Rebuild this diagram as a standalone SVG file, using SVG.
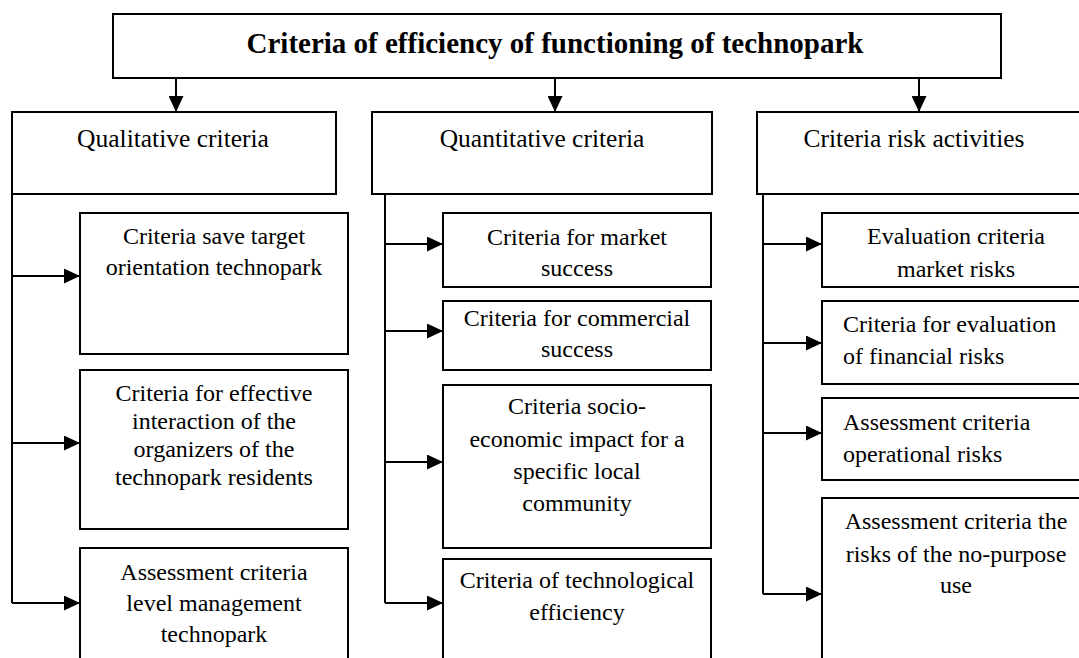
<svg xmlns="http://www.w3.org/2000/svg" width="1079" height="658" viewBox="0 0 1079 658" font-family="Liberation Serif, Times New Roman, serif">
<style>
.box{fill:#fff;stroke:#000;stroke-width:2}
.t{font-family:'Liberation Serif','Times New Roman',serif;font-size:24px;fill:#000;text-anchor:middle}
.h{font-size:25.5px}
.l{text-anchor:start}
.b{font-weight:bold;font-size:29px}
.c{fill:none;stroke:#000;stroke-width:2}
</style>
<defs>
<marker id="ah" markerUnits="userSpaceOnUse" markerWidth="16" markerHeight="15" refX="16" refY="7.5" orient="auto">
<path d="M0,0 L16,7.5 L0,15 z" fill="#000"/>
</marker>
</defs>
<rect width="1079" height="658" fill="#fff"/>
<g id="connectors">
<path class="c" d="M176,78 V112" marker-end="url(#ah)"/>
<path class="c" d="M555,78 V112" marker-end="url(#ah)"/>
<path class="c" d="M919,78 V112" marker-end="url(#ah)"/>
<path class="c" d="M12,194 V603"/>
<path class="c" d="M12,276 H80" marker-end="url(#ah)"/>
<path class="c" d="M12,443 H80" marker-end="url(#ah)"/>
<path class="c" d="M12,603 H80" marker-end="url(#ah)"/>
<path class="c" d="M385,194 V603"/>
<path class="c" d="M385,244 H443" marker-end="url(#ah)"/>
<path class="c" d="M385,331 H443" marker-end="url(#ah)"/>
<path class="c" d="M385,462 H443" marker-end="url(#ah)"/>
<path class="c" d="M385,603 H443" marker-end="url(#ah)"/>
<path class="c" d="M763,194 V594"/>
<path class="c" d="M763,244 H822" marker-end="url(#ah)"/>
<path class="c" d="M763,343 H822" marker-end="url(#ah)"/>
<path class="c" d="M763,433 H822" marker-end="url(#ah)"/>
<path class="c" d="M763,594 H822" marker-end="url(#ah)"/>
</g>
<g id="root">
<rect class="box" x="113" y="14" width="888" height="64"/>
<text class="t b" x="555" y="53">Criteria of efficiency of functioning of technopark</text>
</g>
<g id="qualitative">
<rect class="box" x="12" y="112" width="324" height="82"/>
<text class="t h" x="173" y="147">Qualitative criteria</text>
</g>
<g id="quantitative">
<rect class="box" x="372" y="112" width="340" height="82"/>
<text class="t h" x="542" y="147">Quantitative criteria</text>
</g>
<g id="risk">
<rect class="box" x="757" y="112" width="340" height="82"/>
<text class="t h" x="914" y="147">Criteria risk activities</text>
</g>
<g id="q1">
<rect class="box" x="80" y="213" width="268" height="141"/>
<text class="t" x="214" y="244">Criteria save target</text>
<text class="t" x="214" y="275">orientation technopark</text>
</g>
<g id="q2">
<rect class="box" x="80" y="370" width="268" height="159"/>
<text class="t" x="214" y="401">Criteria for effective</text>
<text class="t" x="214" y="429">interaction of the</text>
<text class="t" x="214" y="457">organizers of the</text>
<text class="t" x="214" y="485">technopark residents</text>
</g>
<g id="q3">
<rect class="box" x="80" y="548" width="268" height="130"/>
<text class="t" x="214" y="580">Assessment criteria</text>
<text class="t" x="214" y="611">level management</text>
<text class="t" x="214" y="642">technopark</text>
</g>
<g id="n1">
<rect class="box" x="443" y="213" width="268" height="74"/>
<text class="t" x="577" y="245">Criteria for market</text>
<text class="t" x="577" y="276">success</text>
</g>
<g id="n2">
<rect class="box" x="443" y="301" width="268" height="69"/>
<text class="t" x="577" y="326">Criteria for commercial</text>
<text class="t" x="577" y="357">success</text>
</g>
<g id="n3">
<rect class="box" x="443" y="385" width="268" height="163"/>
<text class="t" x="577" y="414">Criteria socio-</text>
<text class="t" x="577" y="447">economic impact for a</text>
<text class="t" x="577" y="479">specific local</text>
<text class="t" x="577" y="511">community</text>
</g>
<g id="n4">
<rect class="box" x="443" y="559" width="268" height="120"/>
<text class="t" x="577" y="588">Criteria of technological</text>
<text class="t" x="577" y="620">efficiency</text>
</g>
<g id="r1">
<rect class="box" x="822" y="213" width="268" height="74"/>
<text class="t" x="956" y="244">Evaluation criteria</text>
<text class="t" x="956" y="277">market risks</text>
</g>
<g id="r2">
<rect class="box" x="822" y="301" width="268" height="83"/>
<text class="t l" x="843" y="332">Criteria for evaluation</text>
<text class="t l" x="843" y="364">of financial risks</text>
</g>
<g id="r3">
<rect class="box" x="822" y="398" width="268" height="82"/>
<text class="t l" x="843" y="430">Assessment criteria</text>
<text class="t l" x="843" y="462">operational risks</text>
</g>
<g id="r4">
<rect class="box" x="822" y="498" width="268" height="180"/>
<text class="t" x="956" y="529">Assessment criteria the</text>
<text class="t" x="956" y="562">risks of the no-purpose</text>
<text class="t" x="956" y="593">use</text>
</g>
</svg>
